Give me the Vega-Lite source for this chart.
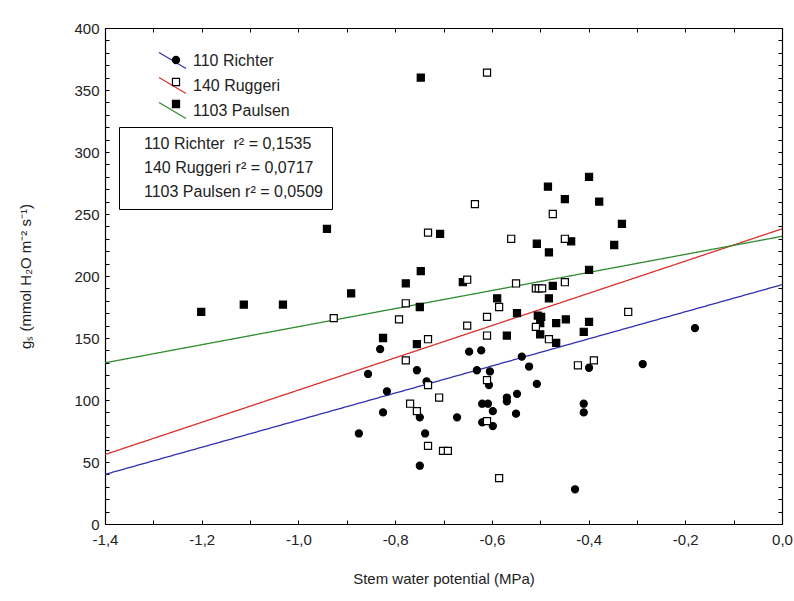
{
  "$schema": "https://vega.github.io/schema/vega-lite/v6.json",
  "width": 677,
  "height": 496,
  "autosize": "none",
  "padding": {"left": 105, "top": 28, "right": 12, "bottom": 77},
  "background": "white",
  "config": {
    "font": "Liberation Sans",
    "view": {"stroke": "black", "strokeWidth": 1},
    "axis": {"grid": false, "domainColor": "black", "domainWidth": 1.2, "tickColor": "black", "tickWidth": 1, "labelColor": "#222", "titleColor": "#222", "labelFont": "Liberation Sans", "titleFont": "Liberation Sans", "titleFontWeight": "normal"},
    "legend": {"padding": 0, "labelFont": "Liberation Sans", "labelLimit": 400}
  },
  "datasets": {
    "pts": [
      {"series": "1103 Paulsen", "swp": -1.201, "gs": 171},
      {"series": "1103 Paulsen", "swp": -1.113, "gs": 177},
      {"series": "1103 Paulsen", "swp": -1.032, "gs": 177},
      {"series": "1103 Paulsen", "swp": -0.941, "gs": 238},
      {"series": "1103 Paulsen", "swp": -0.891, "gs": 186},
      {"series": "1103 Paulsen", "swp": -0.707, "gs": 234},
      {"series": "1103 Paulsen", "swp": -0.507, "gs": 226},
      {"series": "1103 Paulsen", "swp": -0.482, "gs": 219},
      {"series": "1103 Paulsen", "swp": -0.747, "gs": 204},
      {"series": "1103 Paulsen", "swp": -0.778, "gs": 194},
      {"series": "1103 Paulsen", "swp": -0.660, "gs": 195},
      {"series": "1103 Paulsen", "swp": -0.474, "gs": 192},
      {"series": "1103 Paulsen", "swp": -0.482, "gs": 182},
      {"series": "1103 Paulsen", "swp": -0.589, "gs": 182},
      {"series": "1103 Paulsen", "swp": -0.749, "gs": 175},
      {"series": "1103 Paulsen", "swp": -0.548, "gs": 170},
      {"series": "1103 Paulsen", "swp": -0.505, "gs": 168},
      {"series": "1103 Paulsen", "swp": -0.498, "gs": 167},
      {"series": "1103 Paulsen", "swp": -0.569, "gs": 152},
      {"series": "1103 Paulsen", "swp": -0.500, "gs": 162},
      {"series": "1103 Paulsen", "swp": -0.500, "gs": 153},
      {"series": "1103 Paulsen", "swp": -0.467, "gs": 162},
      {"series": "1103 Paulsen", "swp": -0.467, "gs": 146},
      {"series": "1103 Paulsen", "swp": -0.825, "gs": 150},
      {"series": "1103 Paulsen", "swp": -0.755, "gs": 145},
      {"series": "1103 Paulsen", "swp": -0.747, "gs": 360},
      {"series": "1103 Paulsen", "swp": -0.484, "gs": 272},
      {"series": "1103 Paulsen", "swp": -0.399, "gs": 280},
      {"series": "1103 Paulsen", "swp": -0.449, "gs": 262},
      {"series": "1103 Paulsen", "swp": -0.378, "gs": 260},
      {"series": "1103 Paulsen", "swp": -0.331, "gs": 242},
      {"series": "1103 Paulsen", "swp": -0.436, "gs": 228},
      {"series": "1103 Paulsen", "swp": -0.347, "gs": 225},
      {"series": "1103 Paulsen", "swp": -0.399, "gs": 205},
      {"series": "1103 Paulsen", "swp": -0.399, "gs": 163},
      {"series": "1103 Paulsen", "swp": -0.447, "gs": 165},
      {"series": "1103 Paulsen", "swp": -0.410, "gs": 155},
      {"series": "110 Richter", "swp": -0.875, "gs": 73},
      {"series": "110 Richter", "swp": -0.856, "gs": 121},
      {"series": "110 Richter", "swp": -0.817, "gs": 107},
      {"series": "110 Richter", "swp": -0.825, "gs": 90},
      {"series": "110 Richter", "swp": -0.755, "gs": 124},
      {"series": "110 Richter", "swp": -0.749, "gs": 86},
      {"series": "110 Richter", "swp": -0.738, "gs": 73},
      {"series": "110 Richter", "swp": -0.749, "gs": 47},
      {"series": "110 Richter", "swp": -0.672, "gs": 86},
      {"series": "110 Richter", "swp": -0.631, "gs": 124},
      {"series": "110 Richter", "swp": -0.604, "gs": 123},
      {"series": "110 Richter", "swp": -0.606, "gs": 112},
      {"series": "110 Richter", "swp": -0.620, "gs": 97},
      {"series": "110 Richter", "swp": -0.608, "gs": 97},
      {"series": "110 Richter", "swp": -0.598, "gs": 91},
      {"series": "110 Richter", "swp": -0.620, "gs": 82},
      {"series": "110 Richter", "swp": -0.598, "gs": 79},
      {"series": "110 Richter", "swp": -0.569, "gs": 102},
      {"series": "110 Richter", "swp": -0.569, "gs": 99},
      {"series": "110 Richter", "swp": -0.548, "gs": 105},
      {"series": "110 Richter", "swp": -0.550, "gs": 89},
      {"series": "110 Richter", "swp": -0.538, "gs": 135},
      {"series": "110 Richter", "swp": -0.523, "gs": 127},
      {"series": "110 Richter", "swp": -0.507, "gs": 113},
      {"series": "110 Richter", "swp": -0.647, "gs": 139},
      {"series": "110 Richter", "swp": -0.622, "gs": 140},
      {"series": "110 Richter", "swp": -0.831, "gs": 141},
      {"series": "110 Richter", "swp": -0.180, "gs": 158},
      {"series": "110 Richter", "swp": -0.399, "gs": 126},
      {"series": "110 Richter", "swp": -0.288, "gs": 129},
      {"series": "110 Richter", "swp": -0.410, "gs": 97},
      {"series": "110 Richter", "swp": -0.410, "gs": 90},
      {"series": "110 Richter", "swp": -0.428, "gs": 28},
      {"series": "110 Richter", "swp": -0.735, "gs": 115},
      {"series": "140 Ruggeri", "swp": -0.927, "gs": 166},
      {"series": "140 Ruggeri", "swp": -0.792, "gs": 165},
      {"series": "140 Ruggeri", "swp": -0.778, "gs": 178},
      {"series": "140 Ruggeri", "swp": -0.778, "gs": 132},
      {"series": "140 Ruggeri", "swp": -0.732, "gs": 235},
      {"series": "140 Ruggeri", "swp": -0.635, "gs": 258},
      {"series": "140 Ruggeri", "swp": -0.610, "gs": 364},
      {"series": "140 Ruggeri", "swp": -0.474, "gs": 250},
      {"series": "140 Ruggeri", "swp": -0.560, "gs": 230},
      {"series": "140 Ruggeri", "swp": -0.449, "gs": 230},
      {"series": "140 Ruggeri", "swp": -0.651, "gs": 197},
      {"series": "140 Ruggeri", "swp": -0.550, "gs": 194},
      {"series": "140 Ruggeri", "swp": -0.509, "gs": 190},
      {"series": "140 Ruggeri", "swp": -0.503, "gs": 190},
      {"series": "140 Ruggeri", "swp": -0.496, "gs": 190},
      {"series": "140 Ruggeri", "swp": -0.449, "gs": 195},
      {"series": "140 Ruggeri", "swp": -0.585, "gs": 175},
      {"series": "140 Ruggeri", "swp": -0.610, "gs": 167},
      {"series": "140 Ruggeri", "swp": -0.651, "gs": 160},
      {"series": "140 Ruggeri", "swp": -0.610, "gs": 152},
      {"series": "140 Ruggeri", "swp": -0.509, "gs": 159},
      {"series": "140 Ruggeri", "swp": -0.482, "gs": 149},
      {"series": "140 Ruggeri", "swp": -0.732, "gs": 149},
      {"series": "140 Ruggeri", "swp": -0.732, "gs": 112},
      {"series": "140 Ruggeri", "swp": -0.769, "gs": 97},
      {"series": "140 Ruggeri", "swp": -0.755, "gs": 91},
      {"series": "140 Ruggeri", "swp": -0.709, "gs": 102},
      {"series": "140 Ruggeri", "swp": -0.732, "gs": 63},
      {"series": "140 Ruggeri", "swp": -0.701, "gs": 59},
      {"series": "140 Ruggeri", "swp": -0.691, "gs": 59},
      {"series": "140 Ruggeri", "swp": -0.610, "gs": 116},
      {"series": "140 Ruggeri", "swp": -0.610, "gs": 83},
      {"series": "140 Ruggeri", "swp": -0.585, "gs": 37},
      {"series": "140 Ruggeri", "swp": -0.422, "gs": 128},
      {"series": "140 Ruggeri", "swp": -0.389, "gs": 132},
      {"series": "140 Ruggeri", "swp": -0.318, "gs": 171}
    ],
    "fits": [
      {"line": "110 Richter (fit)", "fit": "110 Richter\u00a0 r² = 0,1535", "swp": -1.4, "gs": 40},
      {"line": "110 Richter (fit)", "fit": "110 Richter\u00a0 r² = 0,1535", "swp": 0, "gs": 193},
      {"line": "140 Ruggeri (fit)", "fit": "140 Ruggeri r² = 0,0717", "swp": -1.4, "gs": 56},
      {"line": "140 Ruggeri (fit)", "fit": "140 Ruggeri r² = 0,0717", "swp": 0, "gs": 238},
      {"line": "1103 Paulsen (fit)", "fit": "1103 Paulsen r² = 0,0509", "swp": -1.4, "gs": 130},
      {"line": "1103 Paulsen (fit)", "fit": "1103 Paulsen r² = 0,0509", "swp": 0, "gs": 232}
    ]
  },
  "layer": [
    {
      "data": {"name": "fits"},
      "mark": {"type": "line", "strokeWidth": 1.3},
      "encoding": {
        "x": {
          "field": "swp", "type": "quantitative",
          "scale": {"domain": [-1.4, 0], "nice": false, "zero": false},
          "axis": {
            "orient": "bottom",
            "values": [-1.4, -1.3, -1.2, -1.1, -1.0, -0.9, -0.8, -0.7, -0.6, -0.5, -0.4, -0.3, -0.2, -0.1, 0],
            "labelExpr": "abs(round(datum.value*10)) % 2 == 0 ? replace(replace(format(datum.value, '.1f'), '.', ','), '\u2212', '-') : ''",
            "tickSize": -4, "labelPadding": 12, "labelFontSize": 15, "labelFlush": false, "labelOverlap": false,
            "title": "Stem water potential (MPa)", "titleFontSize": 15, "titlePadding": 24
          }
        },
        "y": {
          "field": "gs", "type": "quantitative",
          "scale": {"domain": [0, 400], "nice": false},
          "axis": {
            "orient": "left",
            "values": [0,10,20,30,40,50,60,70,80,90,100,110,120,130,140,150,160,170,180,190,200,210,220,230,240,250,260,270,280,290,300,310,320,330,340,350,360,370,380,390,400],
            "labelExpr": "datum.value % 50 == 0 ? datum.label : ''",
            "tickSize": -4, "labelPadding": 10, "labelFontSize": 15, "labelFlush": false, "labelOverlap": false,
            "title": "gₛ (mmol H₂O m⁻² s⁻¹)", "titleFontSize": 15, "titlePadding": 40
          }
        },
        "stroke": {
          "field": "line", "type": "nominal",
          "scale": {"domain": ["110 Richter (fit)", "140 Ruggeri (fit)", "1103 Paulsen (fit)"], "range": ["#3030b0", "#d93030", "#2e8b2e"]},
          "legend": {
            "title": null, "orient": "none", "legendX": 53, "legendY": 18,
            "labelExpr": "replace(datum.label, ' (fit)', '')",
            "symbolType": "M-1,-0.6L1,0.6", "symbolSize": 729, "symbolStrokeWidth": 1.2, "symbolFillColor": "transparent",
            "labelFontSize": 16, "labelColor": "#222", "labelOffset": 6, "rowPadding": -5
          }
        },
        "strokeDash": {
          "field": "fit", "type": "nominal",
          "scale": {"domain": ["110 Richter\u00a0 r² = 0,1535", "140 Ruggeri r² = 0,0717", "1103 Paulsen r² = 0,0509"], "range": [[1, 0], [1, 0], [1, 0]]},
          "legend": {
            "title": null, "orient": "none", "legendX": 14, "legendY": 99,
            "symbolSize": 0, "symbolOpacity": 0, "symbolStrokeWidth": 0, "labelOffset": 0,
            "labelFontSize": 16, "labelColor": "#222", "rowPadding": 8,
            "strokeColor": "black", "fillColor": "white", "padding": 9
          }
        }
      }
    },
    {
      "data": {"name": "pts"},
      "mark": {"type": "point", "size": 50, "stroke": "black", "strokeWidth": 1.2, "opacity": 1, "fillOpacity": 1},
      "encoding": {
        "x": {
          "field": "swp", "type": "quantitative",
          "scale": {"domain": [-1.4, 0], "nice": false, "zero": false},
          "axis": {
            "orient": "top", "labels": false, "title": null,
            "values": [-1.4, -1.3, -1.2, -1.1, -1.0, -0.9, -0.8, -0.7, -0.6, -0.5, -0.4, -0.3, -0.2, -0.1, 0],
            "tickSize": -4
          }
        },
        "y": {
          "field": "gs", "type": "quantitative",
          "scale": {"domain": [0, 400], "nice": false},
          "axis": {
            "orient": "right", "labels": false, "title": null,
            "values": [0,10,20,30,40,50,60,70,80,90,100,110,120,130,140,150,160,170,180,190,200,210,220,230,240,250,260,270,280,290,300,310,320,330,340,350,360,370,380,390,400],
            "tickSize": -4
          }
        },
        "shape": {
          "field": "series", "type": "nominal",
          "scale": {"domain": ["110 Richter", "140 Ruggeri", "1103 Paulsen"], "range": ["circle", "square", "square"]},
          "legend": {
            "title": null, "orient": "none", "legendX": 63, "legendY": 24,
            "symbolSize": 50, "symbolStrokeWidth": 1.2,
            "labelExpr": "''",
            "labelFontSize": 16, "labelOpacity": 0, "labelOffset": 6, "rowPadding": 6,
            "encoding": {"symbols": {"update": {"stroke": {"value": "black"}, "strokeWidth": {"value": 1.2}}}}
          }
        },
        "fill": {
          "field": "series", "type": "nominal",
          "scale": {"domain": ["110 Richter", "140 Ruggeri", "1103 Paulsen"], "range": ["black", "white", "black"]},
          "legend": {
            "title": null, "orient": "none", "legendX": 63, "legendY": 24,
            "symbolSize": 50, "symbolStrokeWidth": 1.2,
            "labelExpr": "''",
            "labelFontSize": 16, "labelOpacity": 0, "labelOffset": 6, "rowPadding": 6,
            "encoding": {"symbols": {"update": {"stroke": {"value": "black"}, "strokeWidth": {"value": 1.2}}}}
          }
        }
      }
    }
  ],
  "resolve": {"axis": {"x": "independent", "y": "independent"}}
}
